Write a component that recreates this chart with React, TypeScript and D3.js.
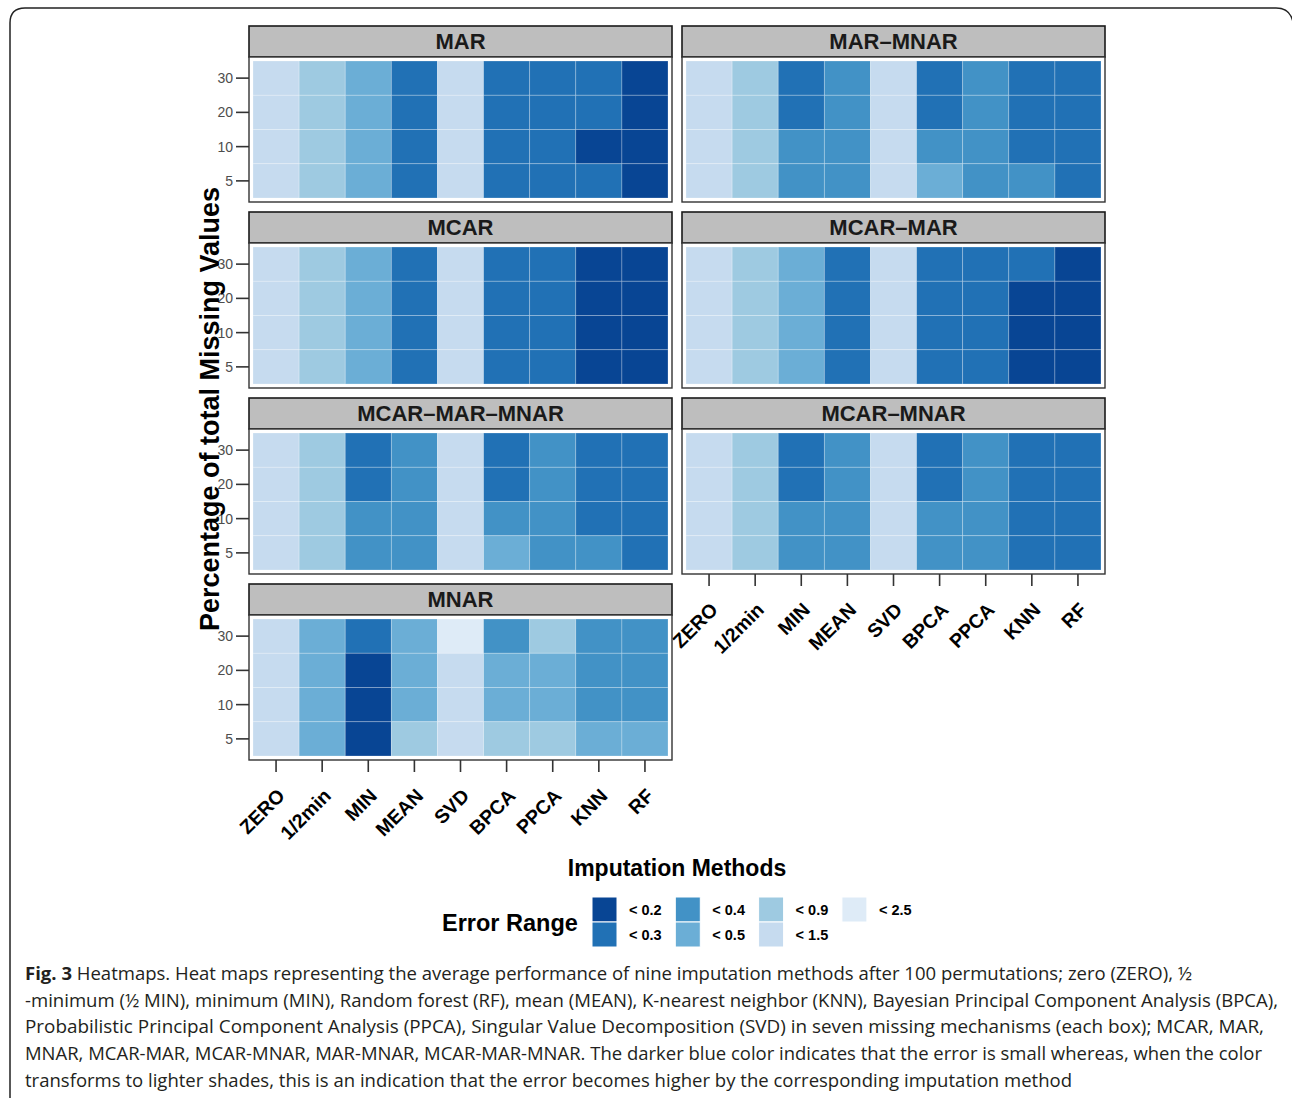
import React from "react";
import * as d3 from "d3";

const methods = ["ZERO", "1/2min", "MIN", "MEAN", "SVD", "BPCA", "PPCA", "KNN", "RF"];
const percents = ["30", "20", "10", "5"];
const thresholds = [0.2, 0.3, 0.4, 0.5, 0.9, 1.5];
const palette = ["#084594", "#2171b5", "#4292c6", "#6baed6", "#9ecae1", "#c6dbef", "#deebf7"];
const legendLabels = ["< 0.2", "< 0.3", "< 0.4", "< 0.5", "< 0.9", "< 1.5", "< 2.5"];

// rows: 30, 20, 10, 5 ; columns follow `methods`
const MAR = [
  [1.2, 0.7, 0.45, 0.26, 1.1, 0.25, 0.24, 0.22, 0.17],
  [1.2, 0.7, 0.46, 0.27, 1.1, 0.26, 0.25, 0.23, 0.18],
  [1.3, 0.72, 0.47, 0.27, 1.1, 0.26, 0.25, 0.19, 0.18],
  [1.3, 0.75, 0.48, 0.28, 1.2, 0.27, 0.26, 0.24, 0.19],
];
const MAR_MNAR = [
  [1.2, 0.7, 0.28, 0.33, 1.1, 0.27, 0.33, 0.26, 0.25],
  [1.2, 0.7, 0.29, 0.34, 1.1, 0.28, 0.34, 0.27, 0.26],
  [1.3, 0.72, 0.32, 0.35, 1.1, 0.33, 0.35, 0.28, 0.27],
  [1.3, 0.75, 0.36, 0.37, 1.2, 0.42, 0.37, 0.31, 0.28],
];
const MCAR = [
  [1.2, 0.7, 0.45, 0.26, 1.1, 0.25, 0.24, 0.17, 0.16],
  [1.2, 0.7, 0.46, 0.27, 1.1, 0.26, 0.25, 0.17, 0.16],
  [1.3, 0.72, 0.47, 0.27, 1.1, 0.26, 0.25, 0.18, 0.17],
  [1.3, 0.75, 0.48, 0.28, 1.2, 0.27, 0.26, 0.18, 0.17],
];
const MCAR_MAR = [
  [1.2, 0.7, 0.45, 0.26, 1.1, 0.25, 0.24, 0.22, 0.17],
  [1.2, 0.7, 0.46, 0.27, 1.1, 0.26, 0.25, 0.17, 0.16],
  [1.3, 0.72, 0.47, 0.27, 1.1, 0.26, 0.25, 0.18, 0.17],
  [1.3, 0.75, 0.48, 0.28, 1.2, 0.27, 0.26, 0.18, 0.17],
];
const MCAR_MAR_MNAR = [
  [1.2, 0.7, 0.28, 0.33, 1.1, 0.27, 0.33, 0.26, 0.25],
  [1.2, 0.7, 0.29, 0.34, 1.1, 0.28, 0.34, 0.27, 0.26],
  [1.3, 0.72, 0.32, 0.35, 1.1, 0.33, 0.35, 0.28, 0.27],
  [1.3, 0.75, 0.36, 0.37, 1.2, 0.42, 0.37, 0.31, 0.28],
];
const MCAR_MNAR = [
  [1.2, 0.7, 0.28, 0.33, 1.1, 0.27, 0.33, 0.26, 0.25],
  [1.2, 0.7, 0.29, 0.34, 1.1, 0.28, 0.34, 0.27, 0.26],
  [1.3, 0.72, 0.32, 0.35, 1.1, 0.33, 0.35, 0.28, 0.27],
  [1.3, 0.75, 0.36, 0.37, 1.2, 0.36, 0.37, 0.28, 0.28],
];
const MNAR = [
  [1.3, 0.46, 0.28, 0.45, 1.8, 0.36, 0.6, 0.37, 0.38],
  [1.3, 0.45, 0.15, 0.44, 1.4, 0.42, 0.44, 0.35, 0.36],
  [1.3, 0.45, 0.16, 0.45, 1.4, 0.43, 0.45, 0.36, 0.37],
  [1.4, 0.47, 0.16, 0.55, 1.4, 0.6, 0.65, 0.42, 0.43],
];

const panels = [
  { name: "MAR", data: MAR, col: 0, row: 0, xAxis: false },
  { name: "MAR\u2013MNAR", data: MAR_MNAR, col: 1, row: 0, xAxis: false },
  { name: "MCAR", data: MCAR, col: 0, row: 1, xAxis: false },
  { name: "MCAR\u2013MAR", data: MCAR_MAR, col: 1, row: 1, xAxis: false },
  { name: "MCAR\u2013MAR\u2013MNAR", data: MCAR_MAR_MNAR, col: 0, row: 2, xAxis: false },
  { name: "MCAR\u2013MNAR", data: MCAR_MNAR, col: 1, row: 2, xAxis: true },
  { name: "MNAR", data: MNAR, col: 0, row: 3, xAxis: true },
];

const captionLines = [
  { bold: "Fig. 3", text: " Heatmaps. Heat maps representing the average performance of nine imputation methods after 100 permutations; zero (ZERO), \u00bd", end: 1192 },
  { bold: "", text: "-minimum (\u00bd MIN), minimum (MIN), Random forest (RF), mean (MEAN), K-nearest neighbor (KNN), Bayesian Principal Component Analysis (BPCA),", end: 1278 },
  { bold: "", text: "Probabilistic Principal Component Analysis (PPCA), Singular Value Decomposition (SVD) in seven missing mechanisms (each box); MCAR, MAR,", end: 1264 },
  { bold: "", text: "MNAR, MCAR-MAR, MCAR-MNAR, MAR-MNAR, MCAR-MAR-MNAR. The darker blue color indicates that the error is small whereas, when the color", end: 1262 },
  { bold: "", text: "transforms to lighter shades, this is an indication that the error becomes higher by the corresponding imputation method", end: 1072 },
];

const W = 1292;
const H = 1098;
const FONT = "'Liberation Sans', Arial, Helvetica, sans-serif";

const colX = [249, 682];
const panelW = 423;
const rowY0 = 26;
const rowStep = 186;
const stripH = 31;
const bodyH = 145;
const inset = 4;

const color = d3.scaleThreshold<number, string>().domain(thresholds).range(palette);

function Panel({ p }: { p: typeof panels[number] }) {
  const x0 = colX[p.col];
  const top = rowY0 + p.row * rowStep;
  const bodyTop = top + stripH;
  const bodyBot = bodyTop + bodyH;
  const x = d3.scaleBand<string>().domain(methods).range([x0 + inset, x0 + panelW - inset]).padding(0);
  const y = d3.scaleBand<string>().domain(percents).range([bodyTop + inset, bodyBot - inset]).padding(0);
  const cells: { m: string; pc: string; v: number }[] = [];
  p.data.forEach((row, ri) => row.forEach((v, ci) => cells.push({ m: methods[ci], pc: percents[ri], v })));
  return (
    <g>
      <rect x={x0} y={top} width={panelW} height={stripH} fill="#bebebe" stroke="#1a1a1a" strokeWidth={1.6} />
      <text x={x0 + panelW / 2} y={top + stripH / 2 + 7.5} textAnchor="middle" fontFamily={FONT} fontWeight="bold" fontSize={22} fill="#1a1a1a">
        {p.name}
      </text>
      <rect x={x0} y={bodyTop} width={panelW} height={bodyH} fill="#ffffff" stroke="#333333" strokeWidth={1.4} />
      {cells.map((c, i) => (
        <rect key={i} x={x(c.m)} y={y(c.pc)} width={x.bandwidth()} height={y.bandwidth()} fill={color(c.v)} stroke="rgba(255,255,255,0.3)" strokeWidth={0.8} />
      ))}
      {p.col === 0 &&
        percents.map((pc) => {
          const cy = (y(pc) as number) + y.bandwidth() / 2;
          return (
            <g key={pc}>
              <line x1={x0 - 13} x2={x0} y1={cy} y2={cy} stroke="#333333" strokeWidth={1.6} />
              <text x={x0 - 16} y={cy + 5} textAnchor="end" fontFamily={FONT} fontSize={14} fill="#4d4d4d">
                {pc}
              </text>
            </g>
          );
        })}
      {p.xAxis &&
        methods.map((m) => {
          const cx = (x(m) as number) + x.bandwidth() / 2;
          return (
            <g key={m}>
              <line x1={cx} x2={cx} y1={bodyBot} y2={bodyBot + 12} stroke="#333333" strokeWidth={1.6} />
              <text transform={`translate(${cx + 10},${bodyBot + 37}) rotate(-45)`} textAnchor="end" fontFamily={FONT} fontWeight="bold" fontSize={19.5} fill="#000">
                {m}
              </text>
            </g>
          );
        })}
    </g>
  );
}

export default function App() {
  const legendX0 = 592;
  const legendColStep = 83.3;
  const swatch = 25;
  return (
    <svg width={W} height={H} style={{ position: "absolute", left: 0, top: 0, background: "#fff" }}>
      <rect x={0} y={0} width={W} height={H} fill="#ffffff" />
      <path d={`M10,${H + 2} L10,23 Q10,8 25,8 L1276,8 Q1290,8 1293,22`} fill="none" stroke="#222" strokeWidth={1.5} />
      {panels.map((p) => (
        <Panel key={p.name} p={p} />
      ))}
      <text transform="translate(219,409) rotate(-90)" textAnchor="middle" fontFamily={FONT} fontWeight="bold" fontSize={27} fill="#000">
        Percentage of total Missing Values
      </text>
      <text x={677} y={876} textAnchor="middle" fontFamily={FONT} fontWeight="bold" fontSize={23} fill="#000">
        Imputation Methods
      </text>
      <text x={442} y={931} fontFamily={FONT} fontWeight="bold" fontSize={23.5} fill="#000">
        Error Range
      </text>
      {legendLabels.map((lab, i) => {
        const c = Math.floor(i / 2);
        const r = i % 2;
        const sx = legendX0 + c * legendColStep;
        const sy = 897 + r * swatch;
        return (
          <g key={lab}>
            <rect x={sx} y={sy} width={swatch} height={swatch} fill={palette[i]} stroke="#ffffff" strokeWidth={1} />
            <text x={sx + 37} y={sy + swatch / 2 + 5} fontFamily={FONT} fontWeight="bold" fontSize={14.5} fill="#000">
              {lab}
            </text>
          </g>
        );
      })}
      {captionLines.map((l, i) => (
        <text key={i} x={25} y={980 + i * 26.7} fontFamily="'Open Sans', 'Noto Sans', sans-serif" fontSize={18} fill="#231f20" textLength={l.end - 25} lengthAdjust="spacingAndGlyphs">
          {l.bold && <tspan fontWeight="bold">{l.bold}</tspan>}
          {l.text}
        </text>
      ))}
    </svg>
  );
}
